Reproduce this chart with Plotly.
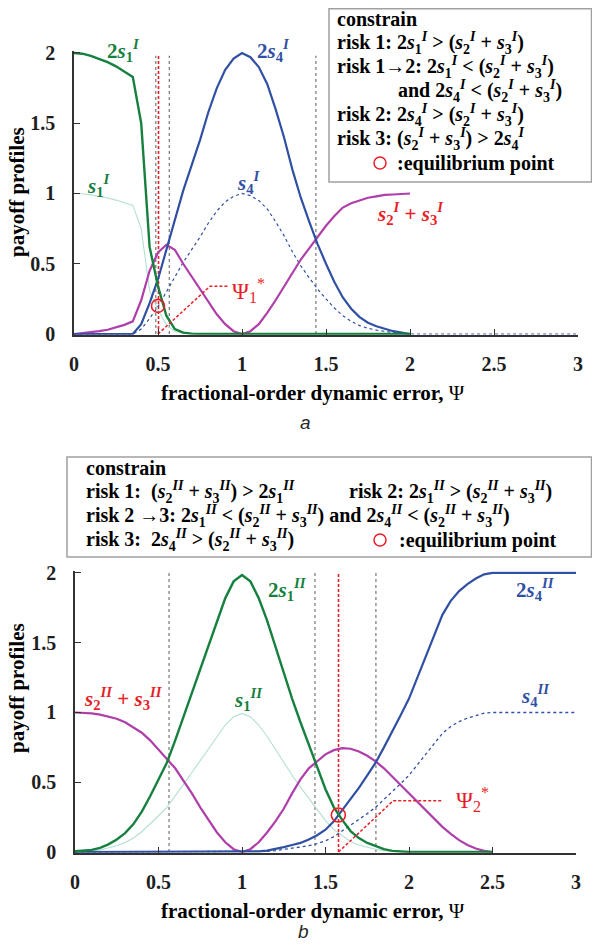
import plotly.graph_objects as go

# ---------------- data: panel a ----------------
psi_a = [0, 0.05, 0.1, 0.15, 0.2, 0.25, 0.3, 0.35, 0.4, 0.45, 0.5, 0.55, 0.6, 0.65, 0.7,
         0.75, 0.8, 0.85, 0.9, 0.95, 1.0, 1.05, 1.1, 1.15, 1.2, 1.25, 1.3, 1.35, 1.4, 1.45,
         1.5, 1.55, 1.6, 1.65, 1.7, 1.75, 1.8, 1.85, 1.9, 1.95, 2.0]
two_s1_a = [2.0, 1.995, 1.98, 1.96, 1.935, 1.905, 1.87, 1.83, 1.5, 0.62, 0.34, 0.13, 0.035, 0.01, 0.003,
            0, 0, 0, 0, 0, 0, 0, 0, 0, 0, 0, 0, 0, 0, 0,
            0, 0, 0, 0, 0, 0, 0, 0, 0, 0, 0]
s1_a = [1.0, 0.998, 0.99, 0.98, 0.968, 0.953, 0.935, 0.915, 0.75, 0.31, 0.17, 0.065, 0.018, 0.005, 0.002,
        0, 0, 0, 0, 0, 0, 0, 0, 0, 0, 0, 0, 0, 0, 0,
        0, 0, 0, 0, 0, 0, 0, 0, 0, 0, 0]
s23_a = [0, 0.005, 0.01, 0.02, 0.03, 0.045, 0.065, 0.09, 0.24, 0.45, 0.58, 0.635, 0.6, 0.5, 0.41,
         0.32, 0.23, 0.14, 0.07, 0.02, 0, 0.02, 0.07, 0.15, 0.24, 0.34, 0.43, 0.53, 0.61, 0.69,
         0.77, 0.84, 0.9, 0.93, 0.95, 0.97, 0.98, 0.99, 0.993, 0.997, 1.0]
two_s4_a = [0, 0, 0, 0, 0, 0, 0, 0, 0.07, 0.22, 0.39, 0.6, 0.82, 1.02, 1.2,
            1.38, 1.58, 1.75, 1.88, 1.96, 2.0, 1.97, 1.9, 1.78, 1.6, 1.4, 1.17, 0.97, 0.8, 0.64,
            0.5, 0.37, 0.26, 0.18, 0.12, 0.08, 0.055, 0.035, 0.02, 0.01, 0]
s4_a = [0, 0, 0, 0, 0, 0, 0, 0, 0.035, 0.11, 0.195, 0.3, 0.41, 0.51, 0.6,
        0.69, 0.79, 0.875, 0.94, 0.98, 1.0, 0.985, 0.95, 0.89, 0.8, 0.7, 0.585, 0.485, 0.4, 0.32,
        0.25, 0.185, 0.13, 0.09, 0.06, 0.04, 0.028, 0.018, 0.01, 0.005, 0]
psi_a_tail = [2.5, 3.0]
s4_a_tail = [0, 0]
vlines_gray_a = [0.487, 0.567, 1.44]
vline_red_a = 0.503
equil_a = (0.5, 0.2)
pointer_a_x = [0.5, 0.81, 0.925]
pointer_a_y = [0.0, 0.34, 0.34]

# ---------------- data: panel b ----------------
psi_b = [0, 0.05, 0.1, 0.15, 0.2, 0.25, 0.3, 0.35, 0.4, 0.45, 0.5, 0.55, 0.6, 0.65, 0.7,
         0.75, 0.8, 0.85, 0.9, 0.95, 1.0, 1.05, 1.1, 1.15, 1.2, 1.25, 1.3, 1.35, 1.4, 1.45,
         1.5, 1.55, 1.6, 1.65, 1.7, 1.75, 1.8, 1.85, 1.9, 1.95, 2.0, 2.05, 2.1, 2.15, 2.2,
         2.25, 2.3, 2.35, 2.4, 2.45, 2.5]
two_s1_b = [0.005, 0.01, 0.015, 0.03, 0.055, 0.09, 0.135, 0.2, 0.29, 0.4, 0.52, 0.64, 0.8, 0.97, 1.14,
            1.31, 1.48, 1.66, 1.82, 1.94, 1.985, 1.94, 1.82, 1.66, 1.47, 1.28, 1.1, 0.93, 0.77, 0.6,
            0.45, 0.32, 0.23, 0.15, 0.1, 0.065, 0.04, 0.02, 0.008, 0.003, 0, 0, 0, 0, 0,
            0, 0, 0, 0, 0, 0]
s1_b = [0.003, 0.005, 0.008, 0.015, 0.028, 0.045, 0.068, 0.1, 0.145, 0.2, 0.26, 0.32, 0.4, 0.485, 0.57,
        0.655, 0.74, 0.83, 0.91, 0.97, 0.993, 0.97, 0.91, 0.83, 0.735, 0.64, 0.55, 0.465, 0.385, 0.3,
        0.225, 0.16, 0.115, 0.075, 0.05, 0.033, 0.02, 0.01, 0.004, 0.002, 0, 0, 0, 0, 0,
        0, 0, 0, 0, 0, 0]
s23_b = [1.0, 0.998, 0.993, 0.985, 0.97, 0.955, 0.93, 0.89, 0.855, 0.8, 0.735, 0.67, 0.6, 0.51, 0.42,
         0.32, 0.23, 0.14, 0.07, 0.02, 0, 0.02, 0.07, 0.14, 0.22, 0.31, 0.42, 0.52, 0.6, 0.65,
         0.7, 0.73, 0.745, 0.74, 0.72, 0.69, 0.65, 0.6, 0.54, 0.48, 0.42, 0.36, 0.3, 0.24, 0.18,
         0.13, 0.085, 0.05, 0.025, 0.008, 0]
two_s4_b = [0, 0, 0, 0, 0, 0, 0, 0, 0, 0, 0, 0, 0, 0, 0,
            0, 0, 0, 0, 0, 0, 0.002, 0.005, 0.01, 0.02, 0.035, 0.05, 0.065, 0.09, 0.12,
            0.16, 0.22, 0.3, 0.38, 0.46, 0.55, 0.64, 0.75, 0.86, 0.98, 1.1, 1.25, 1.4, 1.55, 1.7,
            1.8, 1.87, 1.92, 1.96, 1.99, 2.0]
s4_b = [0, 0, 0, 0, 0, 0, 0, 0, 0, 0, 0, 0, 0, 0, 0,
        0, 0, 0, 0, 0, 0, 0.001, 0.003, 0.005, 0.01, 0.018, 0.025, 0.033, 0.045, 0.06,
        0.08, 0.11, 0.15, 0.19, 0.23, 0.275, 0.32, 0.375, 0.43, 0.49, 0.55, 0.625, 0.7, 0.775, 0.85,
        0.9, 0.935, 0.96, 0.98, 0.995, 1.0]
psi_b_tail = [3.0]
two_s4_b_tail = [2.0]
s4_b_tail = [1.0]
vlines_gray_b = [0.563, 1.437, 1.802]
vline_red_b = 1.578
equil_b = (1.577, 0.265)
pointer_b_x = [1.578, 1.906, 2.2]
pointer_b_y = [0.0, 0.368, 0.368]

x_ticks = [0, 0.5, 1, 1.5, 2, 2.5, 3]
x_ticklabels = ['0', '0.5', '1', '1.5', '2', '2.5', '3']
y_ticks = [0, 0.5, 1, 1.5, 2]
y_ticklabels = ['0', '0.5', '1', '1.5', '2']

# ---------------- styling ----------------
# The page body keeps its default 8px margin, so the figure is sized to fill the
# 600x951 window exactly and positions below are given in window pixels.
OFF = 8
FW, FH = 600 - 2 * OFF, 951 - 2 * OFF
GREEN = 'rgb(22,128,62)'
LGREEN = 'rgb(178,224,206)'
BLUE = 'rgb(48,80,163)'
MAG = 'rgb(176,62,170)'
RED = 'rgb(232,30,40)'
GRAY = 'rgb(105,105,105)'
SERIF = 'Liberation Serif'


def fx(px):
    return (px - OFF) / FW


def fy(py):
    return 1 - (py - OFF) / FH


fig = go.Figure()


def add_line(x, y, color, width, dash='solid', xa='x', ya='y'):
    fig.add_trace(go.Scatter(x=x, y=y, mode='lines', xaxis=xa, yaxis=ya,
                             line=dict(color=color, width=width, dash=dash),
                             showlegend=False, hoverinfo='skip'))


RDASH = '3px,2px'

# panel a
for v in vlines_gray_a:
    add_line([v, v], [0, 1.98], GRAY, 1.1, 'dot')
add_line([vline_red_a, vline_red_a], [0, 1.98], RED, 1.6, RDASH)
add_line(psi_a, s1_a, LGREEN, 1.1)
add_line(psi_a + psi_a_tail, s4_a + s4_a_tail, BLUE, 1.2, 'dot')
add_line(psi_a, s23_a, MAG, 2.2)
add_line(psi_a, two_s4_a, BLUE, 2.2)
add_line(psi_a, two_s1_a, GREEN, 2.4)
add_line(pointer_a_x, pointer_a_y, RED, 1.5, RDASH)
fig.add_trace(go.Scatter(x=[equil_a[0]], y=[equil_a[1]], mode='markers', showlegend=False,
                         marker=dict(symbol='circle-open', size=13, color=RED, line=dict(width=1.6)),
                         hoverinfo='skip', cliponaxis=False))

# panel b
for v in vlines_gray_b:
    add_line([v, v], [0, 2.0], GRAY, 1.1, 'dot', 'x2', 'y2')
add_line([vline_red_b, vline_red_b], [0, 2.0], RED, 1.6, RDASH, 'x2', 'y2')
add_line(psi_b, s1_b, LGREEN, 1.1, 'solid', 'x2', 'y2')
add_line(psi_b + psi_b_tail, s4_b + s4_b_tail, BLUE, 1.3, 'dot', 'x2', 'y2')
add_line(psi_b, s23_b, MAG, 2.2, 'solid', 'x2', 'y2')
add_line(psi_b + psi_b_tail, two_s4_b + two_s4_b_tail, BLUE, 2.2, 'solid', 'x2', 'y2')
add_line(psi_b, two_s1_b, GREEN, 2.4, 'solid', 'x2', 'y2')
add_line(pointer_b_x, pointer_b_y, RED, 1.5, RDASH, 'x2', 'y2')
fig.add_trace(go.Scatter(x=[equil_b[0]], y=[equil_b[1]], mode='markers', showlegend=False,
                         xaxis='x2', yaxis='y2',
                         marker=dict(symbol='circle-open', size=14, color=RED, line=dict(width=1.6)),
                         hoverinfo='skip', cliponaxis=False))

axis_common = dict(showline=True, linecolor='rgb(50,50,50)', linewidth=1.5, ticks='inside',
                   ticklen=6, tickwidth=1.2, tickcolor='rgb(50,50,50)', showgrid=False,
                   zeroline=False, mirror=False, automargin=False,
                   tickfont=dict(family=SERIF, size=20, color='rgb(30,30,30)', weight='bold'))

fig.update_layout(
    width=FW, height=FH, margin=dict(l=0, r=0, t=0, b=0, pad=0), autosize=False,
    paper_bgcolor='white', plot_bgcolor='white',
    xaxis=dict(domain=[fx(74), fx(578)], range=[0, 3], anchor='y',
               tickvals=x_ticks, ticktext=x_ticklabels, ticklabelstandoff=11, **axis_common),
    yaxis=dict(domain=[fy(334.7), fy(51.3)], range=[-0.005, 2.012], anchor='x',
               tickvals=y_ticks, ticktext=y_ticklabels, ticklabelstandoff=13, **axis_common),
    xaxis2=dict(domain=[fx(75), fx(576)], range=[0, 3], anchor='y2',
                tickvals=x_ticks, ticktext=x_ticklabels, ticklabelstandoff=11, **axis_common),
    yaxis2=dict(domain=[fy(852.7), fy(571.3)], range=[-0.005, 2.012], anchor='x2',
                tickvals=y_ticks, ticktext=y_ticklabels, ticklabelstandoff=13, **axis_common),
)

ann = []


def txt(x, y, text, size=21, color='black', xanchor='left', xref='paper', yref='paper',
        family=SERIF, yanchor='middle'):
    ann.append(dict(x=x, y=y, xref=xref, yref=yref, text=text, showarrow=False,
                    xanchor=xanchor, yanchor=yanchor, borderpad=0,
                    font=dict(family=family, size=size, color=color)))


def sv(sub, sup):
    return '<i>s</i><sub>%s</sub><sup><i>%s</i></sup>' % (sub, sup)


# axis titles
for py_t in (393, 911):
    txt(fx(313), fy(py_t), '<b>fractional-order dynamic error,</b> Ψ', size=21, xanchor='center')
for py_t in (192, 688):
    ann.append(dict(x=fx(17), y=fy(py_t), xref='paper', yref='paper', text='<b>payoff profiles</b>',
                    showarrow=False, textangle=-90, xanchor='center', yanchor='middle', borderpad=0,
                    font=dict(family=SERIF, size=21, color='black')))
txt(fx(305), fy(422), '<i>a</i>', size=19, xanchor='center', family='Liberation Sans', color='rgb(40,40,40)')
txt(fx(303), fy(943), '<i>b</i>', size=19, xanchor='center', yanchor='bottom',
    family='Liberation Sans', color='rgb(40,40,40)')

# legend box a
I = 'I'
lines_a = [
    (336, 19, '<b>constrain</b>'),
    (336, 43, '<b>risk 1: 2%s &gt; (%s + %s)</b>' % (sv(1, I), sv(2, I), sv(3, I))),
    (336, 67, '<b>risk 1→2: 2%s &lt; (%s + %s)</b>' % (sv(1, I), sv(2, I), sv(3, I))),
    (397, 91, '<b>and 2%s &lt; (%s + %s)</b>' % (sv(4, I), sv(2, I), sv(3, I))),
    (336, 115, '<b>risk 2: 2%s &gt; (%s + %s)</b>' % (sv(4, I), sv(2, I), sv(3, I))),
    (336, 139, '<b>risk 3: (%s + %s) &gt; 2%s</b>' % (sv(2, I), sv(3, I), sv(4, I))),
    (396, 163, '<b>:equilibrium point</b>'),
]
for px_, py_, t in lines_a:
    txt(fx(px_), fy(py_), t, size=20)

II = 'II'
lines_b = [
    (85, 468, '<b>constrain</b>'),
    (85, 492, '<b>risk 1:  (%s + %s) &gt; 2%s</b>' % (sv(2, II), sv(3, II), sv(1, II))),
    (348, 492, '<b>risk 2: 2%s &gt; (%s + %s)</b>' % (sv(1, II), sv(2, II), sv(3, II))),
    (85, 516, '<b>risk 2 →3: 2%s &lt; (%s + %s) and 2%s &lt; (%s + %s)</b>'
     % (sv(1, II), sv(2, II), sv(3, II), sv(4, II), sv(2, II), sv(3, II))),
    (85, 540, '<b>risk 3:  2%s &gt; (%s + %s)</b>' % (sv(4, II), sv(2, II), sv(3, II))),
    (398, 540, '<b>:equilibrium point</b>'),
]
for px_, py_, t in lines_b:
    txt(fx(px_), fy(py_), t, size=20)

# curve labels panel a
txt(fx(123), fy(50), '<b>2%s</b>' % sv(1, I), size=21, color=GREEN, xanchor='center')
txt(fx(273), fy(50), '<b>2%s</b>' % sv(4, I), size=21, color=BLUE, xanchor='center')
txt(0.15, 1.06, '<b>%s</b>' % sv(1, I), size=21, color=GREEN, xanchor='center', xref='x', yref='y')
txt(1.04, 1.08, '<b>%s</b>' % sv(4, I), size=21, color=BLUE, xanchor='center', xref='x', yref='y')
txt(2.0, 0.86, '<b>%s + %s</b>' % (sv(2, I), sv(3, I)), size=21, color=RED, xanchor='center', xref='x', yref='y')
txt(0.935, 0.31, 'Ψ<sub>1</sub><sup>*</sup>', size=23, color=RED, xref='x', yref='y')

# curve labels panel b
txt(1.27, 1.88, '<b>2%s</b>' % sv(1, II), size=21, color=GREEN, xanchor='center', xref='x2', yref='y2')
txt(1.036, 1.09, '<b>%s</b>' % sv(1, II), size=21, color=GREEN, xanchor='center', xref='x2', yref='y2')
txt(0.29, 1.1, '<b>%s + %s</b>' % (sv(2, II), sv(3, II)), size=21, color=RED, xanchor='center', xref='x2', yref='y2')
txt(2.76, 1.88, '<b>2%s</b>' % sv(4, II), size=21, color=BLUE, xanchor='center', xref='x2', yref='y2')
txt(2.755, 1.125, '<b>%s</b>' % sv(4, II), size=21, color=BLUE, xanchor='center', xref='x2', yref='y2')
txt(2.275, 0.373, 'Ψ<sub>2</sub><sup>*</sup>', size=23, color=RED, xref='x2', yref='y2')

fig.update_layout(annotations=ann)

# legend boxes and their circle symbols
shapes = [
    dict(type='rect', xref='paper', yref='paper', x0=fx(329), x1=fx(591.5), y0=fy(182), y1=fy(8.8),
         line=dict(color='rgb(160,160,160)', width=1.5), fillcolor='rgba(255,255,255,0)'),
    dict(type='rect', xref='paper', yref='paper', x0=fx(67), x1=fx(591.5), y0=fy(557), y1=fy(457),
         line=dict(color='rgb(160,160,160)', width=1.5), fillcolor='rgba(255,255,255,0)'),
    dict(type='circle', xref='paper', yref='paper', x0=fx(374), x1=fx(386), y0=fy(169), y1=fy(157),
         line=dict(color=RED, width=1.5)),
    dict(type='circle', xref='paper', yref='paper', x0=fx(374), x1=fx(386), y0=fy(546), y1=fy(534),
         line=dict(color=RED, width=1.5)),
]
fig.update_layout(shapes=shapes)

fig.write_html('out.html')
